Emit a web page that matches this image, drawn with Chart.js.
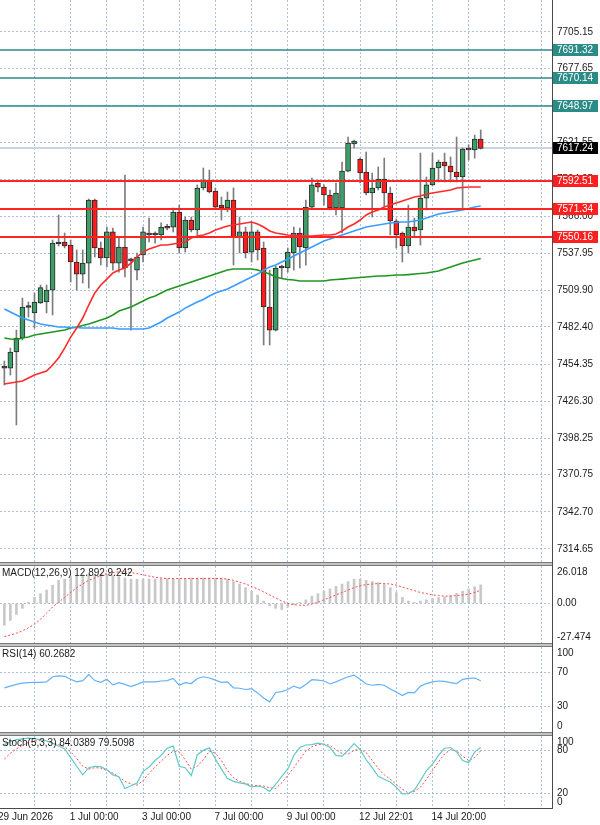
<!DOCTYPE html>
<html>
<head>
<meta charset="utf-8">
<script src="https://cdn.jsdelivr.net/npm/chart.js@4.4.1/dist/chart.umd.min.js"></script>
<style>
  body { margin: 0; background: #fff; width: 600px; height: 825px; overflow: hidden; position: relative; }
  canvas { position: absolute; left: 0; }
  .sep { position: absolute; left: 0; width: 553px; height: 2px; background: #c4c4c4; border-top: 1px solid #7a7a7a; border-bottom: 1px solid #7a7a7a; }
  .vline { position: absolute; left: 552px; top: 0; width: 1px; height: 809px; background: #4a4a4a; }
  .hline { position: absolute; left: 0; top: 808px; width: 553px; height: 1px; background: #4a4a4a; }
</style>
</head>
<body>
<canvas id="mainChart" width="600" height="562" style="top:0"></canvas>
<div class="sep" style="top:562px"></div>
<canvas id="macdChart" width="600" height="77" style="top:566px"></canvas>
<div class="sep" style="top:643px"></div>
<canvas id="rsiChart" width="600" height="85" style="top:647px"></canvas>
<div class="sep" style="top:732px"></div>
<canvas id="stochChart" width="600" height="89" style="top:736px"></canvas>
<div class="vline"></div>
<div class="hline"></div>

<script>
// H4 candles, oldest first
const openP = [7451.3,7451.3,7463.4,7474.0,7497.0,7492.9,7500.4,7501.2,7510.2,7545.7,
  7546.5,7544.2,7531.4,7522.3,7530.6,7578.2,7542.0,7534.4,7554.1,7530.6,
  7542.7,7532.9,7525.3,7536.7,7553.3,7551.8,7551.8,7558.2,7557.8,7569.2,
  7542.0,7563.1,7555.6,7587.3,7593.3,7585.0,7574.4,7572.2,7578.2,7550.3,
  7554.1,7538.9,7554.1,7542.0,7497.4,7480.0,7526.9,7526.9,7538.2,7553.3,
  7542.0,7572.9,7591.1,7588.0,7582.0,7572.2,7572.2,7600.1,7620.5,7609.2,
  7599.4,7583.5,7587.3,7594.1,7583.5,7562.4,7553.3,7543.5,7557.8,7555.6,
  7579.7,7589.6,7602.4,7606.9,7603.9,7599.4,7595.6,7617.5,7616.0,7624.3];
const highP = [7456.6,7466.4,7480.0,7504.2,7501.2,7508.0,7514.0,7514.0,7548.0,7566.9,
  7553.3,7548.0,7540.5,7540.5,7579.0,7579.0,7546.5,7557.8,7557.1,7549.5,
  7597.1,7534.4,7538.2,7557.8,7564.6,7554.1,7560.9,7559.8,7572.2,7574.4,
  7565.4,7565.4,7589.6,7602.4,7600.9,7587.3,7580.5,7584.3,7587.3,7565.4,
  7557.8,7560.9,7555.6,7546.5,7525.3,7528.4,7529.1,7542.0,7557.8,7557.1,
  7578.2,7594.8,7593.3,7589.6,7585.8,7591.1,7606.9,7625.8,7623.5,7609.9,
  7614.5,7598.6,7603.2,7609.9,7588.0,7563.9,7554.1,7574.4,7564.6,7613.7,
  7595.6,7613.7,7608.4,7613.7,7610.7,7625.8,7617.5,7619.8,7627.3,7631.1];
const lowP = [7438.5,7446.0,7408.3,7472.5,7489.8,7481.5,7500.0,7492.9,7491.4,7543.5,
  7542.0,7516.3,7510.2,7515.5,7511.7,7535.2,7529.1,7527.6,7525.3,7523.8,
  7520.1,7480.0,7517.8,7531.4,7546.5,7545.7,7548.0,7555.6,7554.1,7538.2,
  7538.9,7554.1,7551.8,7585.8,7583.5,7572.2,7563.1,7569.2,7529.1,7538.2,
  7534.4,7531.4,7532.9,7468.7,7468.7,7479.3,7519.3,7523.8,7525.3,7526.9,
  7529.1,7572.2,7584.3,7574.4,7570.7,7566.9,7553.3,7599.4,7617.5,7591.1,
  7582.0,7565.4,7585.8,7572.9,7551.8,7542.0,7531.4,7538.2,7550.3,7544.2,
  7570.7,7588.8,7591.8,7591.8,7591.8,7591.8,7572.2,7608.4,7609.9,7616.7];
const closeP = [7452.0,7463.4,7474.0,7497.4,7497.6,7501.2,7512.0,7510.2,7545.7,7545.0,
  7543.5,7531.4,7522.3,7530.6,7578.2,7542.0,7534.4,7554.1,7530.6,7542.7,
  7526.9,7532.3,7535.2,7554.1,7551.8,7552.5,7557.8,7556.9,7569.2,7542.0,
  7563.1,7555.6,7587.3,7593.3,7584.3,7572.9,7572.2,7578.2,7550.3,7554.1,
  7538.2,7554.1,7540.5,7497.4,7480.0,7526.9,7527.6,7538.9,7553.3,7542.7,
  7572.9,7589.6,7588.0,7582.0,7572.2,7583.5,7600.1,7621.3,7622.8,7598.6,
  7583.5,7587.3,7594.1,7583.5,7562.4,7551.8,7543.5,7557.8,7554.8,7579.7,
  7589.6,7602.4,7606.9,7603.9,7599.4,7595.6,7616.7,7616.0,7624.3,7617.24];

// moving averages
const maFast = [7439.2,7440.0,7440.7,7441.5,7443.8,7446.0,7447.5,7449.0,7453.6,7458.9,
  7466.4,7474.7,7481.5,7489.1,7498.9,7508.0,7514.0,7518.5,7523.1,7525.3,
  7526.9,7530.6,7535.2,7538.9,7541.2,7542.7,7544.2,7544.2,7545.0,7545.7,
  7546.5,7549.5,7551.0,7551.8,7553.3,7555.6,7557.1,7558.6,7559.3,7560.1,
  7560.9,7561.6,7560.1,7557.8,7554.8,7553.3,7552.5,7551.8,7551.4,7551.0,
  7551.0,7551.0,7551.4,7551.8,7551.8,7552.5,7554.8,7557.8,7560.1,7563.1,
  7566.9,7569.2,7570.7,7572.9,7574.4,7576.0,7577.5,7579.0,7580.5,7581.2,
  7582.8,7583.5,7584.3,7585.0,7585.8,7587.3,7587.7,7588.0,7588.0,7588.0];
const maMid = [7495.9,7493.6,7491.4,7489.1,7487.6,7486.1,7484.5,7483.8,7483.0,7482.3,
  7482.3,7481.9,7481.9,7481.5,7481.5,7481.5,7481.5,7481.5,7481.5,7480.8,
  7480.8,7480.8,7480.8,7480.8,7481.5,7483.8,7486.1,7489.1,7491.4,7493.6,
  7496.6,7498.9,7501.2,7503.1,7505.7,7508.0,7509.5,7511.0,7513.3,7515.5,
  7517.8,7520.1,7522.3,7525.3,7527.6,7529.1,7531.4,7533.7,7535.9,7538.2,
  7540.5,7542.7,7545.0,7547.3,7548.8,7550.3,7551.8,7553.3,7554.8,7556.3,
  7557.8,7558.6,7559.3,7560.1,7560.9,7561.2,7561.6,7561.6,7562.4,7563.1,
  7564.6,7566.1,7567.6,7568.4,7569.2,7569.9,7570.7,7571.8,7572.9,7573.7];
const maSlow = [7474.0,7473.2,7472.8,7474.0,7474.7,7476.2,7477.0,7477.8,7478.5,7479.3,
  7480.0,7481.5,7482.3,7483.4,7484.5,7486.1,7487.6,7489.1,7491.4,7494.4,
  7495.9,7497.4,7499.7,7501.9,7504.2,7505.7,7508.0,7510.2,7511.7,7513.3,
  7514.8,7516.3,7517.8,7519.3,7520.8,7522.3,7523.8,7525.3,7526.1,7526.1,
  7526.1,7526.1,7525.3,7523.8,7522.3,7520.1,7518.9,7518.2,7517.8,7517.0,
  7517.0,7517.0,7517.0,7517.0,7517.8,7518.2,7518.5,7518.9,7519.3,7519.7,
  7520.1,7520.4,7520.8,7520.8,7521.2,7521.6,7521.6,7521.9,7522.3,7522.7,
  7523.1,7523.8,7524.6,7526.1,7527.6,7529.1,7530.6,7531.8,7532.9,7534.1];

// horizontal levels
const resistance = [7691.32, 7670.14, 7648.97];
const support = [7592.51, 7571.34, 7550.16];
const lastPrice = 7617.24;

// MACD(12,26,9)
const macdHist = [-15.2,-11.8,-7.6,-3.4,0.8,4.2,6.8,9.3,12.7,16.1,
  16.9,18.6,19.4,19.9,20.3,20.3,20.3,19.9,19.4,18.6,
  17.7,16.9,16.9,16.9,16.9,16.9,17.3,17.3,17.3,17.3,
  17.3,17.7,17.7,17.7,17.7,17.7,17.7,16.9,15.2,13.5,
  11.0,8.5,5.9,1.7,-1.7,-3.4,-4.2,-2.5,-0.8,0.8,
  2.5,5.1,6.8,8.5,10.1,11.8,13.5,15.2,16.9,16.9,
  16.1,15.2,14.4,13.5,11.0,7.6,4.2,1.7,0.8,1.7,
  2.5,3.4,4.2,4.6,5.5,7.0,8.5,10.0,11.5,12.892];
const macdSignal = [-23.0,-22.0,-20.7,-19.0,-16.9,-14.4,-11.0,-6.8,-2.5,0.8,
  4.2,7.6,11.0,13.5,16.1,17.7,19.4,20.7,21.5,22.0,
  22.0,21.5,20.7,19.9,19.0,18.2,17.7,17.3,17.3,17.3,
  17.3,17.3,17.3,17.3,17.3,17.3,17.3,16.9,16.1,14.8,
  13.5,11.8,10.1,8.0,5.9,3.8,1.7,0.0,-0.8,-1.3,
  -1.3,-0.4,0.8,2.5,4.2,5.9,7.6,9.3,11.0,12.3,
  13.1,13.5,13.9,13.9,13.5,12.7,11.4,10.1,8.9,7.6,
  6.8,5.9,5.5,5.1,5.1,5.5,5.9,6.5,7.6,9.242];

// RSI(14)
const rsiLine = [52,54,56,57.5,58,58.5,58.5,59,65,66,
  65.5,62,59,60.5,67.5,60.5,58.5,62,55.5,58,
  56,53.5,56,59,59,59,60,60.5,63,55,
  58,57,63,65,63.5,61,58.5,59,52,51.5,
  50,51,46,40,35.5,46.5,47.5,50,54,51.5,
  56,61.5,61,60,56.5,59,62,65,67,62,
  56.5,55,56,55,50.5,47,43,46.5,46,54,
  57,59,60,59.5,58,57,62,63,63.5,60.2682];

// Stochastic(5,3,3)
const stochK = [88,92,95,96,97,96,95,93,90,86,
  82,70,58,46,56,58,57.5,53,46,43.5,
  27,31,34.5,51,57,66,73,83,86,58,
  56,45,74,80,83.5,68,54,41,37,35,
  33.5,29.5,30.5,28.5,23,33,44,54,73,84,
  87.5,88,90,88.5,84,73,72,80,89.5,81,
  67,56,44,40,36,29,19.5,20,25,38,
  52,61,73,83,84,78,66,63,78,84.0389];
const stochD = [68,76,82,87,91,93,94,93,90,88,
  85,78,69,58,54,56,55.5,52,48.5,43,
  37,33.5,31.5,38,48,57,65,73,79,78,
  67,54,58,67,79,76,66,52,42,37,
  34,32,31,30.5,28,27,35,45,56,68,
  79,85,88,88.5,87,81,76,75,80,82,
  77,66,55,46,40,33,26,21,23,29,
  40,52,64,75,81,79,72,66,70,79.5098];

// axes
const priceTicks = [7705.15, 7677.65, 7649.60, 7621.55, 7594.05, 7566.00, 7537.95, 7509.90,
  7482.40, 7454.35, 7426.30, 7398.25, 7370.75, 7342.70, 7314.65];
const xLabels = ["29 Jun 2026", "1 Jul 00:00", "3 Jul 00:00", "7 Jul 00:00", "9 Jul 00:00", "12 Jul 22:01", "14 Jul 20:00"];
const xLabelAt = [-0.89, 11, 23, 35, 47, 59, 71];
const xGridAt = [5, 11, 17, 23, 29, 35, 41, 47, 53, 59, 65, 71, 77, 83, 89];

const X_MIN = -0.72, X_MAX = 90.82;
const GRID = "rgba(150,178,212,0.8)";
const FONT = '10px "Liberation Sans", Arial, sans-serif';

const pts = arr => arr.map((v, i) => ({ x: i, y: v }));

function xScale() {
  return {
    type: "linear", min: X_MIN, max: X_MAX, offset: false,
    afterBuildTicks: s => { s.ticks = xGridAt.map(v => ({ value: v })); },
    afterFit: s => { s.height = 0; },
    ticks: { display: false },
    grid: { color: GRID, drawTicks: false, offset: false },
    border: { display: false, dash: [2, 2] },
  };
}

function yScale(min, max, gridAt) {
  return {
    position: "right", min, max,
    afterBuildTicks: s => { s.ticks = gridAt.map(v => ({ value: v })); },
    afterFit: s => { s.width = 48; },
    ticks: { display: false },
    grid: { color: GRID, drawTicks: false },
    border: { display: false, dash: [2, 2] },
  };
}

function baseOptions(yMin, yMax, gridAt, padBottom) {
  return {
    responsive: false, animation: false, devicePixelRatio: 1, events: [],
    layout: { padding: { left: 0, right: 0, top: 0, bottom: padBottom || 0 } },
    plugins: { legend: { display: false }, tooltip: { enabled: false } },
    scales: { x: xScale(), y: yScale(yMin, yMax, gridAt) },
  };
}

// right-hand scale labels + panel title
function sideLabels(values, texts, title, inset) {
  return {
    id: "sideLabels",
    afterDraw(chart) {
      const { ctx, chartArea: a, scales: { y } } = chart;
      const pad = inset || 6;
      ctx.save();
      ctx.font = FONT;
      ctx.fillStyle = "#1a1a1a";
      ctx.textBaseline = "middle";
      ctx.textAlign = "left";
      values.forEach((v, k) => {
        const py = Math.min(Math.max(y.getPixelForValue(v), a.top + pad), a.bottom - pad);
        ctx.fillText(texts[k], a.right + 5, py);
      });
      if (title) ctx.fillText(title, 2, a.top + 7);
      ctx.restore();
    },
  };
}

const levelPlugin = {
  id: "levels",
  beforeDatasetsDraw(chart) {
    const { ctx, chartArea: a, scales: { y } } = chart;
    const py = Math.round(y.getPixelForValue(lastPrice));
    ctx.save();
    ctx.strokeStyle = "#c9d5e4";
    ctx.lineWidth = 2;
    ctx.beginPath(); ctx.moveTo(a.left, py); ctx.lineTo(a.right, py); ctx.stroke();
    ctx.restore();
  },
  afterDatasetsDraw(chart) {
    const { ctx, chartArea: a, scales: { y } } = chart;
    ctx.save();
    const line = (v, color, w) => {
      const py = Math.round(y.getPixelForValue(v));
      ctx.strokeStyle = color; ctx.lineWidth = w;
      ctx.beginPath(); ctx.moveTo(a.left, py); ctx.lineTo(a.right, py); ctx.stroke();
    };
    resistance.forEach(v => line(v, "#2b8b87", 1.5));
    support.forEach(v => line(v, "#ff2424", 2));
    ctx.restore();
  },
  afterDraw(chart) {
    const { ctx, chartArea: a, scales: { y } } = chart;
    ctx.save();
    ctx.font = FONT;
    ctx.textBaseline = "middle";
    ctx.textAlign = "left";
    const box = (v, bg) => {
      const py = Math.round(y.getPixelForValue(v));
      ctx.fillStyle = bg;
      ctx.fillRect(a.right + 1, py - 6, 45, 12);
      ctx.fillStyle = "#fff";
      ctx.fillText(v.toFixed(2), a.right + 5, py + 0.5);
    };
    resistance.forEach(v => box(v, "#2b8b87"));
    support.forEach(v => box(v, "#ff1f1f"));
    box(lastPrice, "#000");
    ctx.restore();
  },
};

const xLabelPlugin = {
  id: "xLabels",
  afterDraw(chart) {
    const { ctx, chartArea: a, scales: { x } } = chart;
    ctx.save();
    ctx.font = FONT;
    ctx.fillStyle = "#1a1a1a";
    ctx.textBaseline = "middle";
    ctx.textAlign = "left";
    xLabels.forEach((t, k) => ctx.fillText(t, x.getPixelForValue(xLabelAt[k]) - 1, a.bottom + 9));
    ctx.restore();
  },
};

const bodyColors = openP.map((o, i) => {
  const d = closeP[i] - o;
  if (d > 1) return "#3d9e68";
  if (d < -1) return "#ff1c1c";
  return "#333";
});

// main price panel
new Chart(document.getElementById("mainChart"), {
  type: "bar",
  data: {
    datasets: [
      { type: "line", data: pts(maFast), borderColor: "#ff2b2b", borderWidth: 1.6, pointRadius: 0, tension: 0, order: 0 },
      { type: "line", data: pts(maMid), borderColor: "#3a9cff", borderWidth: 1.6, pointRadius: 0, tension: 0, order: 0 },
      { type: "line", data: pts(maSlow), borderColor: "#1f961f", borderWidth: 1.6, pointRadius: 0, tension: 0, order: 0 },
      {
        data: openP.map((o, i) => ({ x: i, y: [o, closeP[i]] })),
        backgroundColor: bodyColors, borderColor: "#2a2a2a", borderWidth: 1, borderSkipped: false,
        barThickness: 5, minBarLength: 2, grouped: false, order: 1,
      },
      {
        data: lowP.map((l, i) => ({ x: i, y: [l, highP[i]] })),
        backgroundColor: "#7d7d7d", barThickness: 1, grouped: false, order: 2,
      },
    ],
  },
  options: baseOptions(7304.8, 7729.3, priceTicks),
  plugins: [sideLabels(priceTicks, priceTicks.map(v => v.toFixed(2)), null, 6), levelPlugin],
});

// MACD panel
new Chart(document.getElementById("macdChart"), {
  type: "bar",
  data: {
    datasets: [
      { type: "line", data: pts(macdSignal), borderColor: "#ff4a4a", borderWidth: 1, borderDash: [2, 2], pointRadius: 0, order: 0 },
      { data: pts(macdHist), backgroundColor: "#c8c8c8", barThickness: 2, grouped: false, order: 1 },
    ],
  },
  options: baseOptions(-27.474, 26.018, [0]),
  plugins: [sideLabels([26.018, 0, -27.474], ["26.018", "0.00", "-27.474"],
    `MACD(12,26,9) ${macdHist[macdHist.length - 1]} ${macdSignal[macdSignal.length - 1]}`, 6)],
});

// RSI panel
new Chart(document.getElementById("rsiChart"), {
  type: "line",
  data: {
    datasets: [
      { data: pts(rsiLine), borderColor: "#63b1f6", borderWidth: 1.2, pointRadius: 0, tension: 0 },
    ],
  },
  options: baseOptions(0, 100, [70, 30]),
  plugins: [sideLabels([100, 70, 30, 0], ["100", "70", "30", "0"],
    `RSI(14) ${rsiLine[rsiLine.length - 1]}`, 6)],
});

// Stochastic panel
new Chart(document.getElementById("stochChart"), {
  type: "line",
  data: {
    datasets: [
      { data: pts(stochK), borderColor: "#5fcaca", borderWidth: 1.2, pointRadius: 0, tension: 0 },
      { data: pts(stochD), borderColor: "#ff4a4a", borderWidth: 1, borderDash: [2, 2], pointRadius: 0, tension: 0 },
    ],
  },
  options: baseOptions(0, 100, [80, 20], 17),
  plugins: [sideLabels([100, 80, 20, 0], ["100", "80", "20", "0"],
    `Stoch(5,3,3) ${stochK[stochK.length - 1]} ${stochD[stochD.length - 1]}`, 6), xLabelPlugin],
});
</script>
</body>
</html>
